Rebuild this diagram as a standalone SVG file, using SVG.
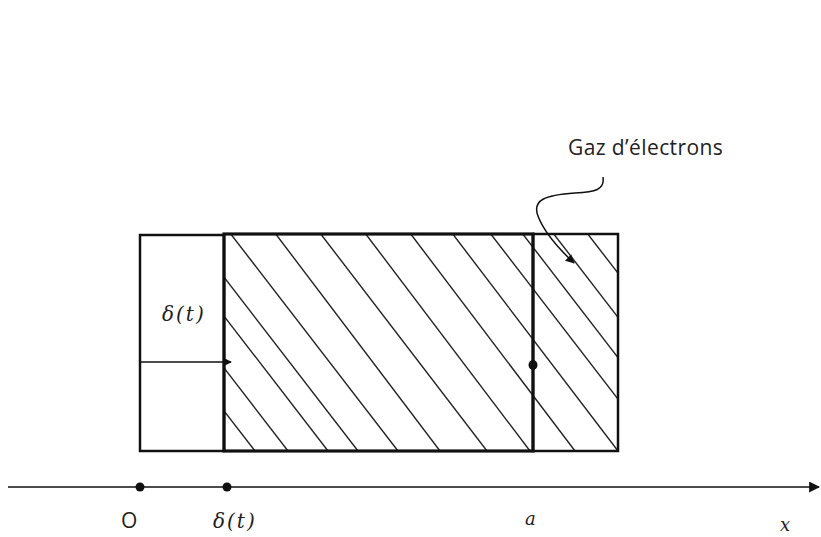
<svg xmlns="http://www.w3.org/2000/svg" width="821" height="537" viewBox="0 0 821 537">
<style>
.box{fill:none;stroke:#111;stroke-width:2.5}
.thick{fill:none;stroke:#111;stroke-width:3.2}
.hatch{stroke:#222;stroke-width:1.4}
.con{fill:none;stroke:#111;stroke-width:1.5}
.math{font-family:"DejaVu Serif","Liberation Serif",serif;font-style:italic;fill:#222}
.lbl{font-family:"Open Sans","Liberation Sans",sans-serif;fill:#222}
</style>
<defs>
<marker id="ah" viewBox="0 0 10 10" refX="9" refY="5" markerWidth="9" markerHeight="9" markerUnits="userSpaceOnUse" orient="auto">
<path d="M0,0 L10,5 L0,10 z" fill="#111"/>
</marker>
<marker id="ah2" viewBox="0 0 10 10" refX="9" refY="5" markerWidth="11" markerHeight="11" markerUnits="userSpaceOnUse" orient="auto">
<path d="M0,0 L10,5 L0,10 z" fill="#111"/>
</marker>
<clipPath id="hc"><rect x="224" y="233" width="394" height="218"/></clipPath>
</defs>
<rect width="821" height="537" fill="#fff"/>
<g id="hatching" clip-path="url(#hc)">
<line class="hatch" x1="87" y1="233" x2="255" y2="451"/>
<line class="hatch" x1="120" y1="233" x2="288" y2="451"/>
<line class="hatch" x1="160" y1="233" x2="328" y2="451"/>
<line class="hatch" x1="190" y1="233" x2="358" y2="451"/>
<line class="hatch" x1="230" y1="233" x2="398" y2="451"/>
<line class="hatch" x1="275" y1="233" x2="440" y2="451"/>
<line class="hatch" x1="320" y1="233" x2="487" y2="451"/>
<line class="hatch" x1="365" y1="233" x2="530" y2="451"/>
<line class="hatch" x1="410" y1="233" x2="575" y2="451"/>
<line class="hatch" x1="452" y1="233" x2="618" y2="451"/>
<line class="hatch" x1="490" y1="233" x2="658" y2="451"/>
<line class="hatch" x1="522" y1="233" x2="690" y2="451"/>
<line class="hatch" x1="553" y1="233" x2="721" y2="451"/>
<line class="hatch" x1="587" y1="233" x2="755" y2="451"/>
</g>
<g id="left-box">
<rect class="box" x="140" y="235" width="84" height="216"/>
</g>
<g id="right-box">
<rect class="box" x="533" y="234" width="85" height="217"/>
</g>
<g id="gas-box">
<rect class="thick" x="224" y="234" width="309" height="217"/>
<ellipse cx="533" cy="365" rx="4.5" ry="5" fill="#111"/>
</g>
<g id="axis">
<line class="con" x1="8" y1="487" x2="819" y2="487" marker-end="url(#ah2)"/>
<circle cx="140" cy="487" r="4.5" fill="#111"/>
<circle cx="227" cy="487" r="4.5" fill="#111"/>
</g>
<g id="connectors">
<line class="con" x1="140" y1="362" x2="231" y2="362" marker-end="url(#ah)"/>
<path class="con" d="M603,177 C605,190 595,192 575,193 C545,195 532,200 538,216 C544,232 558,248 574,263" marker-end="url(#ah)"/>
</g>
<g id="labels">
<text class="math" x="162" y="321" font-size="20" letter-spacing="2">δ(t)</text>
<text class="lbl" x="568" y="155" font-size="21" letter-spacing="0.4">Gaz d’électrons</text>
<text class="lbl" x="121" y="528" font-size="21">O</text>
<text class="math" x="213" y="528" font-size="20" letter-spacing="2">δ(t)</text>
<text class="math" x="525" y="525" font-size="18">a</text>
<text class="math" x="780" y="531" font-size="18">x</text>
</g>
</svg>
